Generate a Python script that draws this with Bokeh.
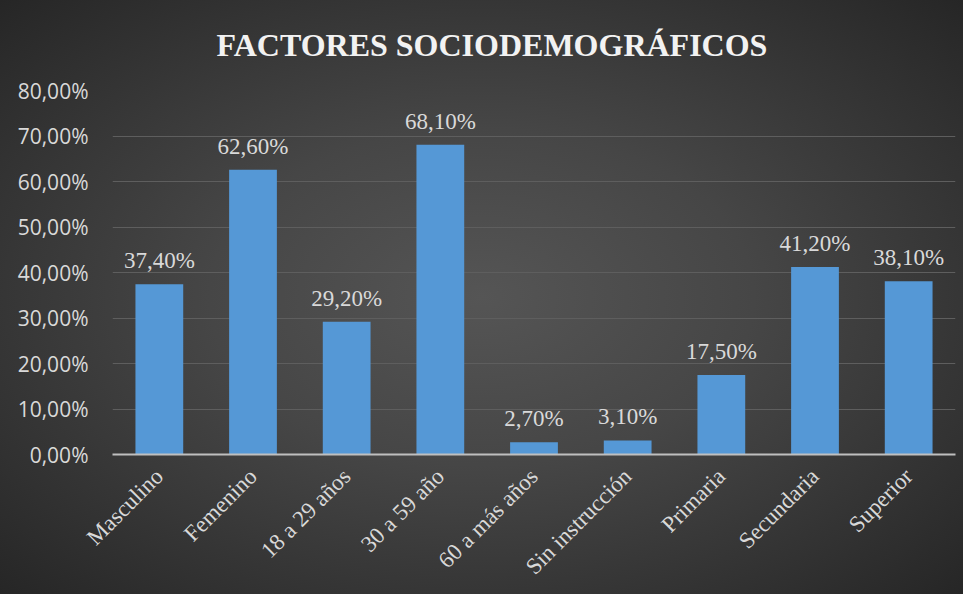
import math
from bokeh.plotting import figure
from bokeh.models import ColumnDataSource, LabelSet, Range1d, CustomJSTickFormatter, FixedTicker
from bokeh.core.properties import value
from bokeh.embed import file_html
from bokeh.resources import INLINE

categories = ["Masculino", "Femenino", "18 a 29 años", "30 a 59 año", "60 a más años",
              "Sin instrucción", "Primaria", "Secundaria", "Superior"]
values = [37.4, 62.6, 29.2, 68.1, 2.7, 3.1, 17.5, 41.2, 38.1]
y_ticks = [0, 10, 20, 30, 40, 50, 60, 70, 80]
title_text = "FACTORES  SOCIODEMOGRÁFICOS"

labels = [("%.2f" % v).replace(".", ",") + "%" for v in values]
src = ColumnDataSource(dict(cat=categories, val=values, lab=labels))

p = figure(x_range=categories, y_range=Range1d(0, 80), width=963, height=594,
           output_backend="svg", toolbar_location=None,
           min_border_left=112, min_border_right=8, min_border_top=89, min_border_bottom=140)

p.styles = {"background": "radial-gradient(ellipse at 50% 50%, #555555 0%, #464646 40%, #262626 100%)"}
p.border_fill_alpha = 0
p.background_fill_alpha = 0
p.outline_line_color = None

p.title.text = title_text
p.title.align = "left"
p.title.offset = 104
p.title.vertical_align = "top"
p.title.text_font = "Liberation Serif"
p.title.text_font_style = "bold"
p.title.text_font_size = "32px"
p.title.text_color = "#f2f2f2"
p.title.standoff = 52

p.vbar(x="cat", top="val", width=0.51, source=src, fill_color="#5598d6", line_color=None)

p.add_layout(LabelSet(x="cat", y="val", text="lab", source=src, text_align="center",
                      text_baseline="alphabetic", y_offset=16, text_font=value("Liberation Serif"),
                      text_font_size=value("23px"), text_color="#d9d9d9"))

p.yaxis.ticker = FixedTicker(ticks=y_ticks)
p.yaxis.formatter = CustomJSTickFormatter(code="return tick.toFixed(2).replace('.', ',') + '%';")
p.yaxis.axis_line_color = None
p.yaxis.major_tick_line_color = None
p.yaxis.minor_tick_line_color = None
p.yaxis.major_label_standoff = 18
p.yaxis.major_label_text_font = "Open Sans"
p.yaxis.major_label_text_font_size = "21px"
p.yaxis.major_label_text_color = "#d9d9d9"

p.xaxis.axis_line_color = "#bfbfbf"
p.xaxis.axis_line_width = 2
p.xaxis.major_tick_line_color = None
p.xaxis.minor_tick_line_color = None
p.xaxis.major_label_orientation = math.pi / 4
p.xaxis.major_label_standoff = 12
p.xaxis.major_label_text_font = "Liberation Serif"
p.xaxis.major_label_text_font_size = "23px"
p.xaxis.major_label_text_color = "#d9d9d9"

p.xgrid.grid_line_color = None
p.ygrid.grid_line_color = "#5e5e5e"
p.ygrid.grid_line_width = 1

open("out.html", "w").write(file_html(p, INLINE))
